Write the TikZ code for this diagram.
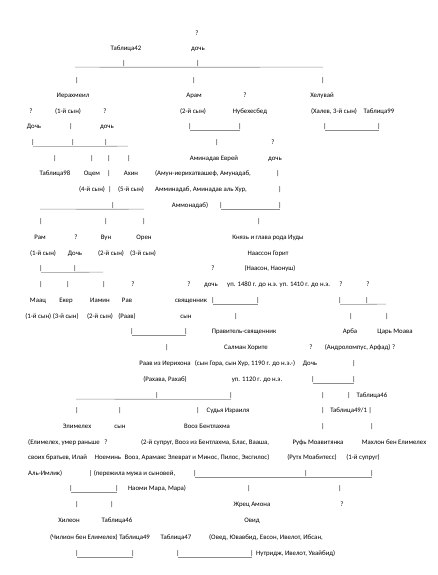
\documentclass[tikz,border=0pt]{standalone}
\usepackage{fontspec}
\setmainfont{Carlito}
\usetikzlibrary{positioning}

\tikzset{
  txt/.style={font=\fontsize{6.8}{8}\selectfont, inner sep=0pt, text height=4.8pt, text depth=1.4pt},
  lt/.style={txt, anchor=west},
  bar/.style={txt},
  uline/.style={draw=black!45, line width=0.6pt},
}

\begin{document}
\begin{tikzpicture}[x=1pt, y=-1pt]
  \useasboundingbox (0,0) rectangle (438,575);

  % --- top: Table 42 ---
  \node[txt] (q0) at (197,34) {?};
  \node[txt] (tab42) at (126,49) {Таблица42};
  \node[txt] (doch0) at (198,49) {дочь};
  \node[bar] (b01) at (124,64) {|};
  \node[bar] (b02) at (198,64) {|};
  \coordinate (l01w) at (75,67.1);
  \coordinate (l01e) at (323,67.1);
  \draw[uline] (l01w) -- (b01.south) -- (b02.south) -- (l01e);
  \node[bar] (b03) at (77,81) {|};
  \node[bar] (b04) at (194,81) {|};
  \node[bar] (b05) at (323,81) {|};

  % --- three sons ---
  \node[txt] (ierah) at (73,96) {Иерахмеил};
  \node[txt] (aram) at (194,96) {Арам};
  \node[txt] (q1) at (245,96) {?};
  \node[txt] (helu) at (322,96) {Хелувай};
  \node[txt] (q2) at (31,112) {?};
  \node[txt] (son1) at (68,112) {(1-й сын)};
  \node[txt] (q3) at (105,112) {?};
  \node[txt] (son2) at (193,112) {(2-й сын)};
  \node[txt] (nubeh) at (250,112) {Нубехесбед};
  \node[txt] (halev) at (334,112) {(Халев, 3-й сын)};
  \node[txt] (tab99) at (379,112) {Таблица99};
  \node[txt] (doch1) at (34,127) {Дочь};
  \node[bar] (b06) at (71,127) {|};
  \node[txt] (doch2) at (107,127) {дочь};
  \node[bar] (b07) at (190,127) {|};
  \node[bar] (b08) at (240,127) {|};
  \draw[uline] (b07.south) -- (b08.south);
  \node[bar] (b09) at (325,127) {|};
  \node[bar] (b10) at (379,127) {|};
  \draw[uline] (b09.south) -- (b10.south);

  % --- children of Jerahmeel ---
  \node[bar] (b11) at (33,143) {|};
  \node[bar] (b12) at (73,143) {|};
  \node[bar] (b13) at (106,143) {|};
  \coordinate (l02e) at (128,146.1);
  \draw[uline] (b11.south) -- (b12.south) -- (b13.south) -- (l02e);
  \node[bar] (b14) at (217,143) {|};
  \node[txt] (q4) at (273,143) {?};
  \node[bar] (b15) at (55,159) {|};
  \node[bar] (b16) at (92,159) {|};
  \node[bar] (b17) at (109,159) {|};
  \node[bar] (b18) at (129,159) {|};
  \node[txt] (amin) at (214,159) {Аминадав Еврей};
  \node[txt] (doch3) at (275,159) {дочь};
  \node[txt] (tab98) at (55,174) {Таблица98};
  \node[txt] (ocem) at (92,174) {Оцем};
  \node[bar] (b19) at (109,174) {|};
  \node[txt] (ahin) at (131,174) {Ахин};
  \node[txt] (amun1) at (203,174) {(Амун-иерихатвашеф, Амунадаб,};
  \node[bar] (b20) at (278,174) {|};
  \node[txt] (son4) at (92,190) {(4-й сын)};
  \node[bar] (b21) at (110,190) {|};
  \node[txt] (son5) at (131,190) {(5-й сын)};
  \node[txt] (amun2) at (201,190) {Амминадаб, Аминадав аль Хур,};
  \node[bar] (b22) at (280,190) {|};
  \coordinate (l03w) at (40,209.1);
  \coordinate (l03e) at (144,209.1);
  \node[bar] (b23) at (113,206) {|};
  \draw[uline] (l03w) -- (b23.south) -- (l03e);
  \node[txt] (amun3) at (190,206) {Аммонадаб)};
  \node[bar] (b24) at (221,206) {|};
  \node[bar] (b25) at (280,206) {|};
  \draw[uline] (b24.south) -- (b25.south);
  \node[bar] (b26) at (41,222) {|};
  \node[bar] (b27) at (106,222) {|};
  \node[bar] (b28) at (144,222) {|};
  \node[bar] (b29) at (259,222) {|};

  % --- Ram, Bunah, Oren, Nahshon ---
  \node[txt] (ram) at (40,238) {Рам};
  \node[txt] (q5) at (76,238) {?};
  \node[txt] (vun) at (106,238) {Вун};
  \node[txt] (oren) at (144,238) {Орен};
  \node[txt] (knyaz) at (268,238) {Князь и глава рода Иуды};
  \node[txt] (son1b) at (43,254) {(1-й сын)};
  \node[txt] (doch4) at (75,254) {Дочь};
  \node[txt] (son2b) at (111,254) {(2-й сын)};
  \node[txt] (son3b) at (143,254) {(3-й сын)};
  \node[txt] (naas) at (268,254) {Наассон Горит};
  \node[bar] (b30) at (41,269) {|};
  \node[bar] (b31) at (75,269) {|};
  \coordinate (l04e) at (103,272.1);
  \draw[uline] (b30.south) -- (b31.south) -- (l04e);
  \node[txt] (q6) at (213,269) {?};
  \node[txt] (naas2) at (270,269) {(Наасон, Наонуш)};
  \node[bar] (b32) at (41,285) {|};
  \node[bar] (b33) at (68,285) {|};
  \node[bar] (b34) at (104,285) {|};
  \node[txt] (q7) at (133,285) {?};
  \node[txt] (q8) at (189,285) {?};
  \node[txt] (doch5) at (211,285) {дочь};
  \node[lt] (up1) at (227,285) {уп. 1480 г. до н.э. уп. 1410 г. до н.э.};
  \node[txt] (q9) at (341,285) {?};
  \node[txt] (q10) at (368,285) {?};

  % --- Maaz, Eker, Jamin, Rab ---
  \node[txt] (maac) at (38,301) {Маац};
  \node[txt] (eker) at (66,301) {Екер};
  \node[txt] (iamin) at (100,301) {Иамин};
  \node[txt] (rav) at (127,301) {Рав};
  \node[txt] (svyas) at (191,301) {священник};
  \node[bar] (b35) at (213,301) {|};
  \node[bar] (b36) at (258,301) {|};
  \draw[uline] (b35.south) -- (b36.south);
  \node[bar] (b37) at (340,301) {|};
  \node[bar] (b38) at (367,301) {|};
  \coordinate (l05e) at (386,304.1);
  \draw[uline] (b37.south) -- (b38.south) -- (l05e);
  \node[txt] (son13) at (52,317) {(1-й сын) (3-й сын)};
  \node[txt] (son2c) at (100,317) {(2-й сын)};
  \node[txt] (raav) at (127,317) {(Раав)};
  \node[txt] (syn1) at (186,317) {сын};
  \node[bar] (b39) at (236,317) {|};
  \node[bar] (b40) at (351,317) {|};
  \node[bar] (b41) at (387,317) {|};
  \node[bar] (b42) at (132,332) {|};
  \node[bar] (b43) at (186,332) {|};
  \draw[uline] (b42.south) -- (b43.south);
  \node[txt] (pravit) at (244,332) {Правитель-священник};
  \node[txt] (arba) at (350,332) {Арба};
  \node[txt] (moav) at (395,332) {Царь Моава};

  % --- Salmon and Rahab ---
  \node[bar] (b44) at (167,348) {|};
  \node[txt] (salman) at (246,348) {Салман Хорите};
  \node[txt] (q11) at (311,348) {?};
  \node[txt] (andro) at (360,348) {(Андроломпус, Арфад) ?};
  \node[txt] (raav2) at (165,364) {Раав из Иерихона};
  \node[txt] (gora) at (245,364) {(сын Гора, сын Хур, 1190 г. до н.э.-)};
  \node[txt] (doch6) at (310,364) {Дочь};
  \node[bar] (b45) at (354,364) {|};
  \node[txt] (rahava) at (165,380) {(Рахава, Рахаб)};
  \node[txt] (up2) at (257,380) {уп. 1120 г. до н.э.};
  \node[bar] (b46) at (313,380) {|};
  \node[bar] (b47) at (354,380) {|};
  \draw[uline] (b46.south) -- (b47.south);
  \coordinate (l06w) at (76,399.1);
  \node[bar] (b48) at (157,396) {|};
  \node[bar] (b49) at (231,396) {|};
  \draw[uline] (l06w) -- (b48.south) -- (b49.south);
  \node[bar] (b50) at (323,396) {|};
  \node[bar] (b51) at (349,396) {|};
  \node[txt] (tab46a) at (372,396) {Таблица46};

  % --- Elimelech, Boaz, Ruth ---
  \node[bar] (b52) at (77,411) {|};
  \node[bar] (b53) at (120,411) {|};
  \node[bar] (b54) at (198,411) {|};
  \node[txt] (sudya) at (228,411) {Судья Израиля};
  \node[bar] (b55) at (323,411) {|};
  \node[txt] (tab491) at (351,411) {Таблица49/1 |};
  \node[txt] (elim) at (77,427) {Элимелех};
  \node[txt] (syn2) at (120,427) {сын};
  \node[txt] (vooz) at (207,427) {Вооз Бентлахма};
  \node[bar] (b56) at (323,427) {|};
  \node[bar] (b57) at (372,427) {|};
  \node[lt] (elim2) at (28,443) {(Елимелех, умер раньше};
  \node[txt] (q12) at (106,443) {?};
  \node[txt] (supr2) at (205,443) {(2-й супруг, Вооз из Бентлахма, Блас, Вааша,};
  \node[txt] (rufh) at (318,443) {Руфь Моавитянка};
  \node[txt] (mahlon) at (394,443) {Махлон бен Елимелех};
  \node[lt] (brat) at (28,458) {своих братьев, Илай};
  \node[txt] (noem) at (108,458) {Ноеминь};
  \node[txt] (vooz2) at (197,458) {Вооз, Арамакс Элеврат и Минос, Пилос, Эксгилос)};
  \node[txt] (ruth) at (312,458) {(Рутх Моабитесс)};
  \node[txt] (supr1) at (363,458) {(1-й супруг)};
  \node[lt] (alim) at (28,474) {Аль-Имлик)};
  \node[lt] (perezh) at (89,474) {| (пережила мужа и сыновей,};
  \node[bar] (b58) at (195,474) {|};
  \node[bar] (b59) at (306,474) {|};
  \node[bar] (b60) at (372,474) {|};
  \draw[uline] (b58.south) -- (b59.south) -- (b60.south);
  \node[bar] (b61) at (71,489) {|};
  \node[bar] (b62) at (117,489) {|};
  \draw[uline] (b61.south) -- (b62.south);
  \node[txt] (naomi) at (157,489) {Наоми Мара, Мара)};
  \node[bar] (b63) at (249,489) {|};
  \node[bar] (b64) at (340,489) {|};

  % --- Chilion, Obed ---
  \node[bar] (b65) at (77,505) {|};
  \node[bar] (b66) at (112,505) {|};
  \node[txt] (zhrec) at (252,505) {Жрец Амона};
  \node[txt] (q13) at (342,505) {?};
  \node[txt] (hileon) at (69,521) {Хилеон};
  \node[txt] (tab46b) at (117,521) {Таблица46};
  \node[txt] (ovid) at (252,521) {Овид};
  \node[txt] (chil) at (100,538) {(Чилион бен Елимелех) Таблица49};
  \node[txt] (tab47) at (176,538) {Таблица47};
  \node[txt] (oved) at (266,538) {(Овед, Ювавбид, Евсон, Ивелот, Ибсан,};
  \node[bar] (b67) at (77,554) {|};
  \node[bar] (b68) at (133,554) {|};
  \draw[uline] (b67.south) -- (b68.south);
  \node[bar] (b69) at (178,554) {|};
  \node[bar] (b70) at (252,554) {|};
  \draw[uline] (b69.south) -- (b70.south);
  \node[lt] (nutr) at (256,554) {Нутридж, Ивелот, Увайбид)};
\end{tikzpicture}
\end{document}
